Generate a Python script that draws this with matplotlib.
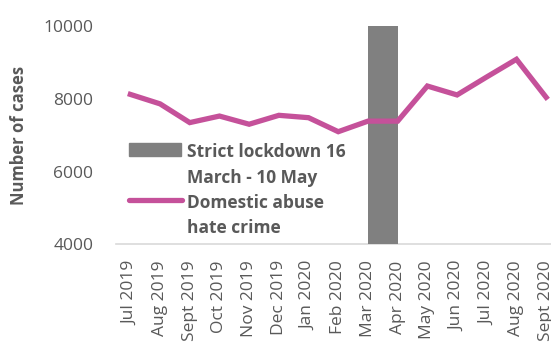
import matplotlib
matplotlib.use("Agg")
from matplotlib import pyplot as plt
from matplotlib.patches import Rectangle
from matplotlib.lines import Line2D

# donnees
mois = ["Jul 2019", "Aug 2019", "Sept 2019", "Oct 2019", "Nov 2019", "Dec 2019",
        "Jan 2020", "Feb 2020", "Mar 2020", "Apr 2020", "May 2020", "Jun 2020",
        "Jul 2020", "Aug 2020", "Sept 2020"]
cas = [8120, 7860, 7345, 7525, 7300, 7545, 7480, 7095, 7385, 7385,
       8350, 8105, 8600, 9085, 8040]
confinement_debut = "Mar 2020"
confinement_hauteur = 10000
labels = ["Strict lockdown 16\nMarch - 10 May", "Domestic abuse\nhate crime"]

gris_txt = "#595959"
rose = "#C5519A"
gris_barre = "#808080"
W, H = 551, 345

plt.rcParams['font.family'] = ['Open Sans', 'DejaVu Sans']

def px(x, y):  # pixels -> fraction de figure
    return x / W, 1 - y / H

fig = plt.figure(figsize=(W / 100, H / 100), dpi=100)
ax = fig.add_axes([115.5 / W, 1 - 244.3 / H, (561 - 115.5) / W, (244.3 - 26) / H])

X = list(range(len(mois)))
i0 = mois.index(confinement_debut)
ax.bar(i0, confinement_hauteur, width=1, align='edge', color=gris_barre, zorder=1)
ax.plot(X, cas, color=rose, lw=3.8, solid_joinstyle='miter', zorder=3)

ax.set_xlim(-0.5, len(mois) - 0.5)
ax.set_ylim(4000, 10000)
ax.set_yticks([4000, 6000, 8000, 10000])
ax.set_xticks(X)
ax.set_xticklabels(mois, rotation=90, va='top', ha='center')
ax.tick_params(axis='y', length=0, pad=16, labelsize=12.5, labelcolor=gris_txt)
ax.tick_params(axis='x', length=0, pad=11.5, labelsize=12.5, labelcolor=gris_txt)
for s in ['top', 'right', 'left']:
    ax.spines[s].set_visible(False)
ax.spines['bottom'].set_color('#D9D9D9')
ax.spines['bottom'].set_linewidth(1.2)
ax.spines['bottom'].set_zorder(0.5)

fig.text(*px(19, 135), "Number of cases", rotation=90, ha='center', va='center',
         fontsize=12, fontweight='bold', color=gris_txt)

# legende faite a la main
x0, y0 = px(129, 155.7)
x1, y1 = px(181, 143.3)
fig.add_artist(Rectangle((x0, y0), x1 - x0, y1 - y0, transform=fig.transFigure,
                         color=gris_barre))
fig.add_artist(Line2D([129 / W, 182 / W], [1 - 200 / H, 1 - 200 / H],
                      transform=fig.transFigure, color=rose, lw=3.8,
                      solid_capstyle='round'))
bases = [157, 183, 208, 233]
lignes = labels[0].split("\n") + labels[1].split("\n")
for b, t in zip(bases, lignes):
    fig.text(*px(187, b), t, ha='left', va='baseline', fontsize=12.5,
             fontweight='bold', color=gris_txt)

fig.savefig("out.png", dpi=100)
